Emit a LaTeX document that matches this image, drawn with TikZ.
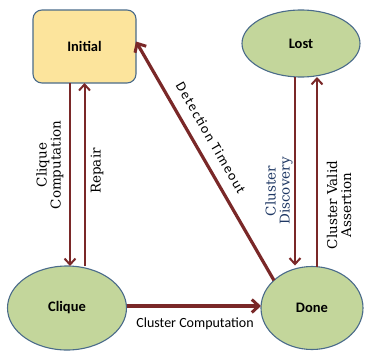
\documentclass[tikz,border=0pt]{standalone}
\usepackage{fontspec}
\setmainfont{DejaVu Serif}
\newfontfamily\calib{Carlito}
\newfontfamily\calibwide[LetterSpace=10]{Carlito}
\usetikzlibrary{shapes.geometric,arrows.meta}
\definecolor{arrowred}{HTML}{7A2828}
\definecolor{edgeblue}{HTML}{4A6B8A}
\definecolor{stategreen}{HTML}{C3D69B}
\definecolor{startyellow}{HTML}{FCE49C}
\definecolor{navytext}{HTML}{1F3864}
\tikzset{
  statebox/.style={draw=edgeblue, line width=1.1pt, outer sep=0pt,
    font=\calib\bfseries\fontsize{14.5}{16}\selectfont},
  stateoval/.style={statebox, ellipse, fill=stategreen, inner sep=0pt},
  trans/.style={draw=arrowred, line width=2pt,
    -{Straight Barb[length=6pt,width=11pt,line width=2pt]}},
  transthick/.style={trans, line width=3.2pt,
    -{Straight Barb[length=7pt,width=13pt,line width=3pt]}},
  seriflabel/.style={font=\fontsize{13.5}{14}\selectfont, align=center,
    rotate=90, inner sep=0pt},
  sanslabel/.style={font=\calib\fontsize{14}{15}\selectfont, inner sep=0pt}
}
\begin{document}
\begin{tikzpicture}[x=1pt,y=-1pt]
  \useasboundingbox (0,0) rectangle (372,351);
  % states
  \node[statebox, fill=startyellow, rounded corners=9pt,
        minimum width=103pt, minimum height=73pt] (init) at (84.5,46.5) {Initial};
  \node[stateoval, minimum width=118pt, minimum height=67pt] (lost) at (301,43.5) {Lost};
  \node[stateoval, minimum width=119pt, minimum height=84pt] (clique) at (67,308) {Clique};
  \node[stateoval, minimum width=102pt, minimum height=83pt] (done) at (312,308) {Done};
  % transitions between Initial and Clique
  \draw[trans] ([xshift=-14.5pt]init.south) -- ([xshift=-14.5pt]init.south |- clique.north);
  \draw[trans] ([xshift=0pt]init.south |- clique.north) -- (init.south);
  % transitions between Lost and Done
  \draw[trans] ([xshift=-6pt]lost.south) -- ([xshift=-6pt,yshift=1pt]lost.south |- done.north);
  \draw[trans] ([xshift=16pt]lost.south |- done.north) -- ([xshift=16pt]lost.south);
  % long transitions
  \draw[transthick] (done.144) -- ([yshift=5pt]init.east);
  \draw[transthick] ([yshift=2pt]clique.east) -- ([yshift=2pt]done.west);
  % labels
  \node[seriflabel] (lblcc) at (50,165) {Clique\\Computation};
  \node[seriflabel] (lblrep) at (97,171) {Repair};
  \node[seriflabel, text=navytext] (lblcd) at (279,191) {Cluster\\Discovery};
  \node[seriflabel] (lblcva) at (339,205) {Cluster Valid\\Assertion};
  \node[sanslabel, font=\calibwide\fontsize{14}{15}\selectfont, rotate=-60]
    (lbldt) at (211,138) {Detection Timeout};
  \node[sanslabel] (lblclc) at (195,324) {Cluster Computation};
\end{tikzpicture}
\end{document}
